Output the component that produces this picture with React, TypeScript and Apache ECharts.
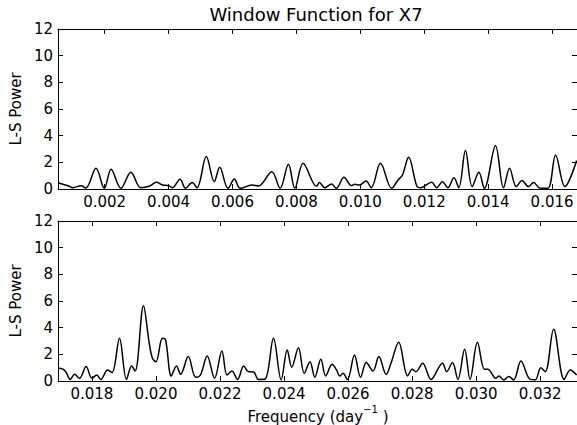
import React, { useEffect, useRef } from "react";
import * as echarts from "echarts";

const titleText = "Window Function for X7";
const yLabel = "L-S Power";
const xLabelMain = "Frequency (day";
const xLabelSup = "−1";
const xLabelEnd = " )";

const topTicks = [0.002, 0.004, 0.006, 0.008, 0.01, 0.012, 0.014, 0.016];
const bottomTicks = [0.018, 0.02, 0.022, 0.024, 0.026, 0.028, 0.03, 0.032];

const topFreq = [
  0.00054, 0.00085, 0.00101, 0.00126, 0.00141, 0.00173, 0.00199, 0.0022, 0.00251, 0.00282,
  0.00313, 0.00339, 0.00362, 0.00381, 0.00401, 0.00412, 0.00436, 0.00453, 0.00474, 0.00489,
  0.00518, 0.00543, 0.0056, 0.00586, 0.00606, 0.00624, 0.00661, 0.00681, 0.00723, 0.00749,
  0.00775, 0.00795, 0.00821, 0.00863, 0.00872, 0.00889, 0.0091, 0.00925, 0.00949, 0.00972,
  0.00982, 0.00997, 0.01018, 0.01034, 0.01063, 0.01098, 0.01118, 0.01132, 0.01151, 0.01177,
  0.01189, 0.01223, 0.01239, 0.01257, 0.01274, 0.01293, 0.01308, 0.01329, 0.0135, 0.01371,
  0.01388, 0.01423, 0.01448, 0.01467, 0.01488, 0.01506, 0.01526, 0.01542, 0.01563, 0.01587,
  0.01611, 0.0164, 0.01677,
];
const topPower = [
  0.47, 0.25, 0.1, 0.25, 0.08, 1.55, 0.05, 1.48, 0.05, 1.25,
  0.1, 0.2, 0.5, 0.3, 0.25, 0.1, 0.73, 0.05, 0.48, 0.1,
  2.43, 0.55, 1.63, 0.05, 0.75, 0.05, 0.3, 0.22, 1.3, 0.05,
  1.85, 0.05, 1.93, 0.2, 0.48, 0.1, 0.38, 0.05, 0.88, 0.25,
  0.35, 0.3, 0.6, 0.1, 1.93, 0.05, 0.68, 1.05, 2.38, 0.2,
  0.1, 0.5, 0.1, 0.55, 0.1, 0.85, 0.1, 2.88, 0.18, 1.25,
  0.05, 3.25, 0.1, 1.55, 0.18, 0.63, 0.18, 0.48, 0.05, 0.05,
  2.55, 0.18, 2.13,
];

const bottomFreq = [
  0.01694, 0.0171, 0.0172, 0.01732, 0.01746, 0.01761, 0.01782, 0.018, 0.01815, 0.01828,
  0.01849, 0.01863, 0.01886, 0.01908, 0.01924, 0.01935, 0.01961, 0.01979, 0.01989, 0.02,
  0.0202, 0.0203, 0.02048, 0.02064, 0.02077, 0.02101, 0.02124, 0.02139, 0.0216, 0.02183,
  0.02206, 0.02222, 0.02237, 0.02255, 0.02274, 0.02289, 0.02305, 0.0232, 0.02341, 0.02367,
  0.02391, 0.0241, 0.02424, 0.02445, 0.02463, 0.02481, 0.02496, 0.02515, 0.0253, 0.0255,
  0.02564, 0.02574, 0.02584, 0.02598, 0.0262, 0.02639, 0.02657, 0.02678, 0.02696, 0.02719,
  0.02734, 0.02758, 0.02786, 0.028, 0.02812, 0.02833, 0.02859, 0.02895, 0.02908, 0.02926,
  0.02943, 0.02964, 0.02981, 0.03004, 0.03026, 0.03037, 0.03045, 0.03061, 0.03071, 0.03086,
  0.03102, 0.03117, 0.0314, 0.03169, 0.03185, 0.03202, 0.03216, 0.03242, 0.03275, 0.03294,
  0.03314,
];
const bottomPower = [
  0.95, 0.88, 0.63, 0.12, 0.5, 0.2, 1.08, 0.2, 0.45, 0.12,
  0.83, 0.63, 3.2, 0.12, 1.13, 0.75, 5.65, 2.83, 1.7, 1.45,
  3.2, 3.08, 0.38, 1.13, 0.5, 1.83, 0.28, 0.45, 1.88, 0.2,
  2.25, 0.45, 0.75, 0.12, 1.13, 0.7, 0.68, 0.12, 0.15, 3.2,
  0.08, 2.33, 1.03, 2.5, 0.58, 1.45, 0.28, 1.63, 0.38, 1.25,
  0.83, 0.38, 0.58, 0.12, 1.95, 0.28, 1.38, 0.75, 1.83, 0.5,
  1.33, 2.9, 0.38, 0.88, 0.7, 1.33, 0.12, 1.33, 0.7, 1.38,
  0.12, 2.38, 0.12, 2.9, 0.88, 0.88, 0.7, 0.2, 0.38, 0.08,
  0.33, 0.08, 1.5, 0.12, 0.1, 1.0, 0.7, 3.88, 0.12, 0.83,
  0.45,
];

const topRange = [0.00054, 0.01678];
const bottomRange = [0.01694, 0.03315];

const FONT = "DejaVu Sans";
const LABEL_SIZE = 15;

function zip(a: number[], b: number[]) {
  return a.map((v, i) => [v, b[i]]);
}

function xAxes(gridIndex: number, range: number[], ticks: number[]) {
  const base = {
    type: "value",
    gridIndex,
    min: range[0],
    max: range[1],
    splitLine: { show: false },
    axisLine: { show: true, onZero: false, lineStyle: { color: "#000", width: 1 } },
    axisTick: { show: true, inside: true, length: 5, customValues: ticks, lineStyle: { color: "#000" } },
  };
  return [
    {
      ...base,
      position: "bottom",
      axisLabel: {
        show: true,
        customValues: ticks,
        formatter: (v: number) => v.toFixed(3),
        color: "#000",
        fontFamily: FONT,
        fontSize: LABEL_SIZE,
        margin: 5,
      },
    },
    { ...base, position: "top", axisLabel: { show: false } },
  ];
}

function yAxes(gridIndex: number) {
  const base = {
    type: "value",
    gridIndex,
    min: 0,
    max: 12,
    interval: 2,
    splitLine: { show: false },
    axisLine: { show: true, onZero: false, lineStyle: { color: "#000", width: 1 } },
    axisTick: { show: true, inside: true, length: 5, lineStyle: { color: "#000" } },
  };
  return [
    {
      ...base,
      position: "left",
      name: yLabel,
      nameLocation: "middle",
      nameGap: 30,
      nameTextStyle: { color: "#000", fontFamily: FONT, fontSize: LABEL_SIZE },
      axisLabel: { show: true, color: "#000", fontFamily: FONT, fontSize: LABEL_SIZE, margin: 5 },
    },
    { ...base, position: "right", axisLabel: { show: false } },
  ];
}

export default function App() {
  const ref = useRef<HTMLDivElement>(null);
  useEffect(() => {
    if (!ref.current) return;
    const chart = echarts.init(ref.current, null, { renderer: "svg" });
    const lineStyle = { color: "#000", width: 1.5 };
    chart.setOption({
      animation: false,
      backgroundColor: "#fff",
      textStyle: { fontFamily: FONT },
      grid: [
        { left: 55, top: 29, width: 522, height: 160 },
        { left: 55, top: 221, width: 522, height: 160 },
      ],
      xAxis: [...xAxes(0, topRange, topTicks), ...xAxes(1, bottomRange, bottomTicks)],
      yAxis: [...yAxes(0), ...yAxes(1)],
      graphic: [
        {
          type: "text",
          x: 316,
          y: 14,
          style: {
            text: titleText,
            font: `18px "${FONT}"`,
            fill: "#000",
            align: "center",
            verticalAlign: "middle",
          },
        },
        {
          type: "text",
          x: 318,
          y: 414,
          style: {
            text: `{a|${xLabelMain}}{s|${xLabelSup}}{a|${xLabelEnd}}`,
            fill: "#000",
            align: "center",
            verticalAlign: "middle",
            rich: {
              a: { fontFamily: FONT, fontSize: LABEL_SIZE, lineHeight: 20, verticalAlign: "bottom" },
              s: { fontFamily: FONT, fontSize: 10, lineHeight: 20, verticalAlign: "top", padding: [0, 0, 6, 0] },
            },
          },
        },
      ],
      series: [
        {
          type: "line",
          xAxisIndex: 0,
          yAxisIndex: 0,
          data: zip(topFreq, topPower),
          showSymbol: false,
          smooth: 0.35,
          lineStyle,
          clip: true,
        },
        {
          type: "line",
          xAxisIndex: 2,
          yAxisIndex: 2,
          data: zip(bottomFreq, bottomPower),
          showSymbol: false,
          smooth: 0.35,
          lineStyle,
          clip: true,
        },
      ],
    });
    return () => chart.dispose();
  }, []);
  return (
    <div
      ref={ref}
      style={{ position: "fixed", left: 0, top: 0, width: 577, height: 425 }}
    />
  );
}
